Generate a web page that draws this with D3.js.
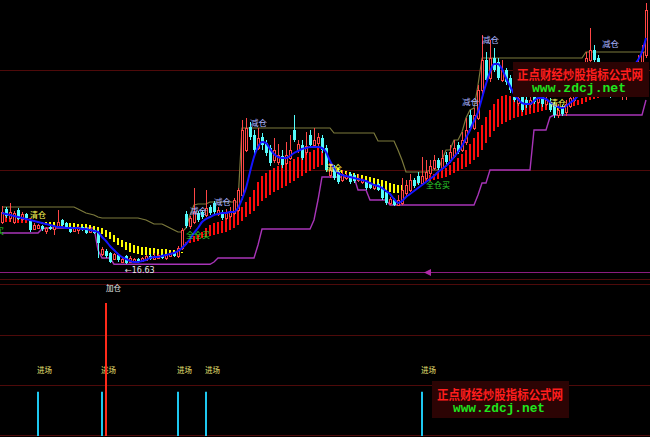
<!DOCTYPE html>
<html><head><meta charset="utf-8">
<script src="https://cdn.jsdelivr.net/npm/d3@7"></script>
<style>html,body{margin:0;padding:0;background:#000;overflow:hidden}</style>
</head><body><svg id="c" width="650" height="437"></svg>
<script>
// ---------- data ----------
const opens=[
18.32,18.84,18.48,18.32,18.80,18.44,18.64,18.36,18.04,18.08,
18.16,17.96,18.12,18.04,18.12,18.40,18.28,18.12,17.96,18.00,
18.12,18.08,17.92,18.00,17.92,17.04,17.16,17.08,16.84,17.00,
16.72,16.96,16.72,16.76,16.84,16.76,16.80,16.96,16.84,16.88,
17.00,16.88,16.96,17.08,16.96,17.28,18.64,18.16,18.32,18.68,
18.72,18.60,18.92,19.08,18.64,18.72,18.48,18.56,18.68,18.80,
19.40,21.20,22.12,21.80,21.28,21.72,21.48,21.28,20.80,20.72,
20.96,20.68,20.88,22.00,21.20,21.40,21.12,21.80,21.40,21.48,
21.68,21.28,20.20,20.48,20.32,20.00,20.08,20.24,20.20,20.00,
19.92,19.92,19.84,19.68,19.84,19.68,19.52,19.08,19.20,19.00,
19.08,19.48,19.60,20.00,20.16,19.88,20.08,20.28,20.48,20.80,
20.48,21.00,20.80,20.96,21.40,21.20,21.52,22.60,22.08,22.48,
23.60,24.80,24.08,24.88,24.72,24.00,24.40,24.08,23.52,23.08,
23.36,23.20,23.04,23.36,23.12,23.32,23.04,23.12,23.00,22.60,
22.88,22.72,22.96,23.20,23.40,23.92,23.80,24.80,25.20,24.88,
24.08,24.32,24.00,23.52,23.84,23.52,23.60,23.80,24.24,24.08,
24.72,25.00];
const closes=[
18.72,18.56,18.72,18.68,18.44,18.64,18.48,18.00,18.20,18.20,
18.04,18.08,18.04,18.16,18.32,18.20,18.08,17.92,18.08,18.12,
18.00,17.88,18.04,17.88,17.48,17.24,16.96,16.72,17.04,16.80,
16.84,16.68,16.88,16.84,16.72,16.88,16.96,16.84,16.96,17.00,
16.88,17.00,17.08,16.96,17.28,18.00,18.16,18.48,18.72,18.40,
18.52,18.88,18.68,18.72,18.80,18.48,18.68,18.76,19.20,19.60,
22.00,22.08,21.72,21.20,21.68,21.40,21.08,20.68,21.20,21.00,
20.60,21.00,21.20,21.60,21.44,20.88,21.36,21.40,21.60,21.72,
21.20,20.40,20.40,20.08,19.92,20.24,20.16,19.92,19.96,20.08,
20.00,19.68,19.68,19.80,19.60,19.28,19.08,19.24,19.00,19.20,
19.60,19.80,20.00,19.76,19.88,20.16,20.32,20.56,20.80,20.48,
20.88,20.72,21.12,21.28,21.12,21.60,22.00,22.08,22.60,23.60,
24.80,24.00,24.88,24.40,24.08,24.40,23.92,23.60,23.20,23.28,
22.80,23.00,23.20,23.12,23.28,23.04,23.20,22.80,22.60,22.80,
22.64,23.04,23.28,23.52,23.80,23.68,24.88,25.20,24.80,24.20,
24.32,23.92,23.60,23.76,23.60,23.80,23.92,24.16,24.00,24.60,
25.12,26.80];
const highs=[
18.96,18.92,19.08,18.76,18.88,18.72,18.68,18.44,18.28,18.24,
18.20,18.12,18.16,18.16,18.80,18.44,18.32,18.16,18.12,18.16,
18.16,18.12,18.08,18.04,18.00,17.32,17.24,17.12,17.08,17.04,
16.88,17.00,16.96,16.88,16.88,16.92,17.00,17.04,17.08,17.04,
17.04,17.04,17.12,17.16,17.36,18.08,18.76,18.56,19.68,18.76,
18.80,19.60,19.00,19.16,18.92,18.80,18.84,18.92,19.28,19.68,
22.40,22.48,22.32,22.00,22.08,21.88,21.60,21.40,21.68,21.44,
21.20,21.52,21.80,22.60,21.60,21.60,21.92,22.00,22.08,21.88,
21.80,21.40,20.60,20.60,20.40,20.40,20.32,20.32,20.28,20.24,
20.08,20.00,19.92,19.84,19.88,19.76,19.60,19.32,19.28,19.40,
20.08,20.00,20.24,20.08,20.32,20.92,20.80,20.80,21.00,20.88,
21.20,21.12,21.40,21.60,21.52,21.92,22.48,22.80,22.88,23.80,
25.80,25.12,25.60,25.28,24.88,24.80,24.48,24.20,23.68,23.40,
23.44,23.32,23.32,23.44,23.48,23.44,23.36,23.28,23.12,23.04,
23.00,23.20,23.36,23.68,24.00,24.08,25.12,26.08,25.40,25.00,
24.48,24.40,24.16,23.92,24.00,24.00,24.16,24.40,24.40,25.00,
25.40,27.08];
const lows=[
18.24,18.48,18.32,18.24,18.40,18.36,18.44,17.92,18.00,18.04,
17.96,17.84,18.00,17.80,18.08,18.16,18.04,17.88,17.92,17.84,
17.96,17.84,17.88,17.84,16.88,16.96,16.88,16.68,16.80,16.72,
16.68,16.63,16.68,16.72,16.68,16.72,16.76,16.80,16.80,16.84,
16.84,16.80,16.92,16.92,16.88,17.20,18.08,18.04,18.24,18.32,
18.44,18.52,18.60,18.64,18.56,18.40,18.40,18.48,18.60,18.72,
19.20,21.12,21.60,21.00,21.20,21.20,20.96,20.56,20.68,20.60,
20.48,20.60,20.80,21.52,21.08,20.80,21.00,21.32,21.28,21.36,
21.08,20.32,20.08,20.00,19.84,19.92,20.00,19.84,19.88,19.92,
19.84,19.60,19.64,19.60,19.56,19.20,19.00,19.00,18.96,18.96,
19.00,19.36,19.52,19.68,19.80,19.80,20.00,20.20,20.40,20.40,
20.40,20.60,20.68,20.88,21.04,21.12,21.40,22.00,22.00,22.40,
23.40,23.92,23.92,24.32,24.00,23.92,23.80,23.48,23.12,22.96,
22.72,22.88,22.88,23.04,23.04,22.92,22.96,22.72,22.48,22.48,
22.56,22.56,22.88,23.12,23.32,23.52,23.68,24.60,24.64,24.08,
23.80,23.68,23.28,23.32,23.36,23.20,23.20,23.52,23.80,24.00,
24.56,24.88];
// blue moving average
const maLine=[
18.68,18.64,18.60,18.56,18.52,18.48,18.44,18.40,18.36,18.32,
18.28,18.24,18.20,18.16,18.12,18.12,18.08,18.08,18.08,18.08,
18.04,18.04,18.00,17.96,17.92,17.72,17.56,17.36,17.20,17.04,
16.92,16.84,16.76,16.72,16.72,16.76,16.80,16.88,16.92,16.92,
16.96,17.00,17.04,17.08,17.16,17.28,17.44,17.64,17.88,18.08,
18.32,18.44,18.52,18.60,18.64,18.68,18.68,18.72,18.72,18.88,
19.24,19.68,20.32,20.92,21.32,21.52,21.48,21.24,21.04,20.92,
20.88,20.88,20.96,21.08,21.16,21.24,21.28,21.32,21.32,21.32,
21.28,21.12,20.76,20.48,20.28,20.20,20.16,20.12,20.08,20.04,
20.00,19.96,19.88,19.80,19.76,19.68,19.56,19.44,19.24,19.08,
19.16,19.32,19.44,19.56,19.68,19.80,19.92,20.04,20.16,20.32,
20.44,20.56,20.72,20.92,21.12,21.36,21.68,22.00,22.36,22.72,
23.28,23.84,24.32,24.64,24.64,24.44,24.08,23.76,23.44,23.24,
23.08,23.04,23.04,23.16,23.28,23.28,23.24,23.12,23.00,22.92,
22.88,22.96,23.08,23.20,23.36,23.48,23.60,23.68,23.76,23.84,
23.92,24.00,24.04,24.08,24.16,24.24,24.32,24.44,24.60,24.80,
25.12,25.68];
// olive upper step line
const upperBand=[
18.92,18.92,18.92,18.92,18.92,18.92,18.92,18.92,18.92,18.92,
18.92,18.92,18.92,18.92,18.92,18.92,18.92,18.92,18.92,18.84,
18.76,18.68,18.64,18.60,18.52,18.48,18.48,18.48,18.48,18.48,
18.48,18.48,18.48,18.48,18.48,18.44,18.40,18.32,18.24,18.24,
18.24,18.16,18.08,18.00,17.92,17.92,18.08,18.60,19.00,19.04,
19.04,19.04,19.12,19.12,19.12,19.12,19.12,19.12,19.12,19.12,
22.08,22.08,22.08,22.08,22.08,22.08,22.08,22.08,22.08,22.08,
22.08,22.08,22.08,22.08,22.08,22.08,22.08,22.08,22.08,22.08,
22.08,22.08,22.08,21.88,21.88,21.88,21.88,21.88,21.88,21.88,
21.88,21.88,21.88,21.88,21.56,21.56,21.56,21.56,21.56,21.20,
20.80,20.32,20.32,20.32,20.32,20.32,20.32,20.40,20.40,20.40,
20.80,21.20,21.20,21.60,21.60,21.92,22.48,22.80,22.88,23.80,
24.88,24.88,24.88,24.88,24.88,24.88,24.88,24.88,24.88,24.88,
24.88,24.88,24.88,24.88,24.88,24.88,24.88,24.88,24.88,24.88,
24.88,24.88,24.88,24.88,24.88,24.88,25.12,25.12,25.12,25.12,
25.12,25.12,25.12,25.12,25.12,25.12,25.12,25.12,25.12,25.12,
25.12,25.12];
// purple lower step line
const lowerBand=[
17.88,17.88,17.88,17.88,17.88,17.88,17.88,17.88,17.88,17.88,
18.04,18.08,18.08,18.08,18.08,18.08,18.08,18.08,18.08,18.08,
18.08,18.08,18.08,18.08,17.20,16.88,16.88,16.88,16.63,16.63,
16.63,16.63,16.63,16.63,16.63,16.63,16.63,16.63,16.63,16.63,
16.63,16.63,16.63,16.63,16.63,16.63,16.63,16.63,16.63,16.63,
16.63,16.63,16.63,16.72,16.88,16.88,16.88,16.88,16.88,16.88,
16.88,16.88,16.88,16.88,17.40,18.04,18.04,18.04,18.04,18.04,
18.04,18.04,18.04,18.04,18.04,18.04,18.04,18.04,18.40,19.20,
20.12,20.12,20.12,20.12,20.12,20.12,20.12,20.12,20.12,19.60,
19.60,19.60,19.20,19.20,19.20,19.20,19.20,19.00,19.00,19.00,
19.00,19.00,19.00,19.00,19.00,19.00,19.00,19.00,19.00,19.00,
19.00,19.00,19.00,19.00,19.00,19.00,19.00,19.00,19.00,19.40,
19.88,19.88,20.40,20.40,20.40,20.40,20.40,20.40,20.40,20.40,
20.40,20.40,20.40,22.00,22.00,22.00,22.00,22.52,22.60,22.60,
22.60,22.60,22.60,22.60,22.60,22.60,22.60,22.60,22.60,22.60,
22.60,22.60,22.60,22.60,22.60,22.60,22.60,22.60,22.60,22.60,
22.60,23.20];
// ribbon (fast / slow)
const ribbonFast=[
18.64,18.64,18.60,18.60,18.56,18.56,18.52,18.48,18.40,18.28,
18.24,18.20,18.20,18.16,18.16,18.12,18.12,18.08,18.08,18.04,
18.04,18.00,18.00,17.96,17.92,17.84,17.72,17.64,17.52,17.40,
17.32,17.20,17.12,17.08,17.04,17.00,17.00,17.00,17.00,17.00,
17.00,17.00,17.00,17.00,17.00,17.08,17.52,17.68,17.76,17.80,
17.92,18.08,18.20,18.28,18.32,18.36,18.44,18.52,18.64,18.76,
18.92,19.12,19.32,19.60,19.92,20.16,20.28,20.40,20.48,20.56,
20.64,20.68,20.76,20.84,20.92,21.00,21.08,21.12,21.20,21.28,
21.16,20.96,20.68,20.48,20.36,20.28,20.24,20.20,20.12,20.08,
20.00,19.96,19.92,19.84,19.76,19.68,19.60,19.52,19.48,19.48,
19.56,19.64,19.72,19.80,19.96,20.04,20.12,20.20,20.24,20.32,
20.40,20.48,20.60,20.72,20.88,21.04,21.20,21.44,21.68,21.92,
22.20,22.52,22.80,23.04,23.24,23.36,23.40,23.36,23.32,23.28,
23.24,23.24,23.20,23.20,23.20,23.16,23.12,23.04,22.84,22.76,
22.80,22.96,23.04,23.12,23.20,23.28,23.36,23.44,23.52,23.60,
23.68,23.72,23.76,23.80,23.84,23.88,23.92,24.00,24.08,24.20,
24.32,24.48];
const ribbonSlow=[
18.32,18.32,18.32,18.32,18.28,18.28,18.28,18.28,18.32,18.32,
18.32,18.32,18.32,18.32,18.32,18.28,18.28,18.28,18.28,18.24,
18.24,18.24,18.20,18.16,18.12,18.08,18.00,17.92,17.80,17.68,
17.60,17.52,17.48,17.40,17.36,17.32,17.32,17.28,17.28,17.24,
17.24,17.24,17.20,17.20,17.16,17.12,17.40,17.48,17.52,17.56,
17.68,17.72,17.76,17.80,17.84,17.88,17.92,18.00,18.08,18.20,
18.36,18.52,18.64,18.76,18.96,19.16,19.28,19.40,19.52,19.60,
19.68,19.76,19.88,19.96,20.08,20.16,20.28,20.36,20.44,20.52,
20.60,20.64,20.60,20.56,20.48,20.40,20.36,20.32,20.28,20.24,
20.20,20.16,20.12,20.08,20.04,20.00,19.96,19.88,19.84,19.80,
19.80,19.80,19.80,19.84,19.84,19.88,19.92,19.96,20.00,20.04,
20.08,20.12,20.20,20.28,20.36,20.44,20.52,20.64,20.80,20.92,
21.20,21.48,21.72,21.96,22.12,22.24,22.32,22.40,22.48,22.52,
22.56,22.60,22.64,22.68,22.72,22.76,22.80,22.84,22.88,22.88,
22.88,22.88,22.92,22.96,23.00,23.04,23.12,23.20,23.24,23.28,
23.32,23.36,23.36,23.40,23.40,23.44,23.44,23.48,23.52,23.56,
23.60,23.68];
// signal labels on the price panel
const labelBars  =[0,7,46,47,53,62,81,106,115,120,137,150];
const labelTexts =["全仓买","清仓","全仓买","减仓","减仓","减仓","清仓","全仓买","减仓","减仓","清仓","减仓"];
const labelPrices=[18.00,18.64,17.84,18.80,19.16,22.32,20.52,19.84,23.16,25.64,23.12,25.48];
// lower indicator panel
const entryBars=[9,25,44,51,105];
const entryValue=1;
const addBars=[26];
const addValue=3;
const gridPrices=[24.40,20.40];
const wmTitle="正点财经炒股指标公式网";
const wmUrl="www.zdcj.net";

// ---------- drawing ----------
const W=650,H=437,N=closes.length;
const svg=d3.select('#c');
svg.append('rect').attr('width',W).attr('height',H).attr('fill','#000');
const x=d3.scaleBand().domain(d3.range(N)).range([0,648]).paddingInner(0.25).paddingOuter(0.125);
const cx=i=>x(i)+x.bandwidth()/2;
const y=d3.scaleLinear().domain([16.32,27.2]).range([272,0]);
const yL=d3.scaleLinear().domain([0,3]).range([436,303]);

const g=svg.append('g');
// grid / panel lines
g.selectAll('.gl').data(gridPrices).join('line')
 .attr('x1',0).attr('x2',W).attr('y1',d=>Math.round(y(d))+0.5).attr('y2',d=>Math.round(y(d))+0.5)
 .attr('stroke','#4e0a0a').attr('stroke-width',1);
[279.5,284.5,335.5,385.5,435.5].forEach(v=>g.append('line').attr('x1',0).attr('x2',W).attr('y1',v).attr('y2',v).attr('stroke','#4e0a0a'));
g.append('line').attr('x1',0).attr('x2',W).attr('y1',Math.round(y(16.32))+0.5).attr('y2',Math.round(y(16.32))+0.5).attr('stroke','#8a1c80');
g.append('path').attr('d',`M424,${272.5}L431,269L431,276Z`).attr('fill','#b02aa8');

// olive and purple step lines
const lineGen=d3.line().x((d,i)=>cx(i)).y(d=>y(d));
g.append('path').attr('d',lineGen(upperBand)).attr('fill','none').attr('stroke','#7c7a3c').attr('stroke-width',1.2);
g.append('path').attr('d',lineGen(lowerBand)).attr('fill','none').attr('stroke','#a834b8').attr('stroke-width',1.4);

// ribbon bars
g.append('g').selectAll('rect').data(d3.range(N)).join('rect')
 .attr('x',i=>x(i)+0.5).attr('width',2)
 .attr('y',i=>y(Math.max(ribbonFast[i],ribbonSlow[i])))
 .attr('height',i=>Math.max(1,Math.abs(y(ribbonFast[i])-y(ribbonSlow[i]))))
 .attr('fill',i=>ribbonFast[i]>=ribbonSlow[i]?'#ff0a0a':'#ffff00');

// candles
const cg=g.append('g').attr('shape-rendering','crispEdges');
const idx=d3.range(N);
cg.selectAll('line').data(idx).join('line')
 .attr('x1',i=>x(i)+2).attr('x2',i=>x(i)+2)
 .attr('y1',i=>y(highs[i])).attr('y2',i=>y(lows[i]))
 .attr('stroke',i=>closes[i]>=opens[i]?'#ff4646':'#54fcfc');
cg.selectAll('rect').data(idx).join('rect')
 .attr('x',i=>closes[i]>=opens[i]?x(i)+1:x(i)+0.5)
 .attr('width',i=>closes[i]>=opens[i]?2:3)
 .attr('y',i=>y(Math.max(opens[i],closes[i])))
 .attr('height',i=>Math.max(1,Math.abs(y(opens[i])-y(closes[i]))))
 .attr('fill',i=>closes[i]>=opens[i]?'#000':'#54fcfc')
 .attr('stroke',i=>closes[i]>=opens[i]?'#ff4646':'none')
 .attr('stroke-width',1);

// blue MA
g.append('path').attr('d',d3.line().x((d,i)=>cx(i)).y(d=>y(d)).curve(d3.curveMonotoneX)(maLine))
 .attr('fill','none').attr('stroke','#1414ff').attr('stroke-width',2);

// labels
const colorOf=t=>t==='减仓'?'#aab4ff':(t==='清仓'?'#ffff58':'#2ed62e');
g.append('g').selectAll('text').data(labelBars).join('text')
 .attr('x',(d,k)=>d===0?cx(d)+2:cx(d))
 .attr('y',(d,k)=>y(labelPrices[k]))
 .attr('text-anchor',d=>d===0?'end':'start')
 .attr('dominant-baseline','central')
 .attr('font-family','"Noto Sans CJK SC",sans-serif')
 .attr('font-size',(d,k)=>labelTexts[k]==='减仓'?8.5:8)
 .attr('fill',(d,k)=>colorOf(labelTexts[k]))
 .text((d,k)=>labelTexts[k]);
const lowIdx=d3.minIndex(lows);
g.append('text').attr('x',cx(lowIdx)-1).attr('y',y(lows[lowIdx])+6).attr('dominant-baseline','central')
 .attr('font-family','"DejaVu Sans",sans-serif').attr('font-size',8).attr('fill','#e8e8e8')
 .text('←'+lows[lowIdx].toFixed(2));

// lower panel
g.selectAll('.ent').data(entryBars).join('line')
 .attr('x1',d=>cx(d)).attr('x2',d=>cx(d)).attr('y1',yL(0)).attr('y2',yL(entryValue))
 .attr('stroke','#1ec8f0').attr('stroke-width',2);
g.selectAll('.entt').data(entryBars).join('text')
 .attr('x',d=>cx(d)-1).attr('y',yL(entryValue*1.5)).attr('dominant-baseline','central')
 .attr('font-family','"Noto Sans CJK SC",sans-serif').attr('font-size',7.5).attr('fill','#e8e070').text('进场');
g.selectAll('.add').data(addBars).join('line')
 .attr('x1',d=>cx(d)).attr('x2',d=>cx(d)).attr('y1',yL(0)).attr('y2',yL(addValue))
 .attr('stroke','#ff2a1a').attr('stroke-width',2);
g.selectAll('.addt').data(addBars).join('text')
 .attr('x',d=>cx(d)).attr('y',yL(addValue*1.117)).attr('dominant-baseline','central')
 .attr('font-family','"Noto Sans CJK SC",sans-serif').attr('font-size',7.5).attr('fill','#e8e8e8').text('加仓');

// watermarks
function watermark(bx,by,bw,bh,tx,ty,tl,ux,uy,ul){
  svg.append('rect').attr('x',bx).attr('y',by).attr('width',bw).attr('height',bh).attr('fill','#2c0404');
  svg.append('text').attr('x',tx).attr('y',ty).attr('dominant-baseline','central')
   .attr('font-family','"Noto Sans CJK SC",sans-serif').attr('font-weight','bold').attr('font-size',13)
   .attr('textLength',tl).attr('lengthAdjust','spacingAndGlyphs').attr('fill','#ff1e1e').text(wmTitle);
  svg.append('text').attr('x',ux).attr('y',uy).attr('dominant-baseline','central')
   .attr('font-family','"Liberation Mono",monospace').attr('font-weight','bold').attr('font-size',12)
   .attr('textLength',ul).attr('lengthAdjust','spacingAndGlyphs').attr('fill','#1ee61e').text(wmUrl);
}
watermark(513,62,136,35,517,73,126,532,89,94);
watermark(432,381,137,37,437,393,126,453,409,92);
</script></body></html>
